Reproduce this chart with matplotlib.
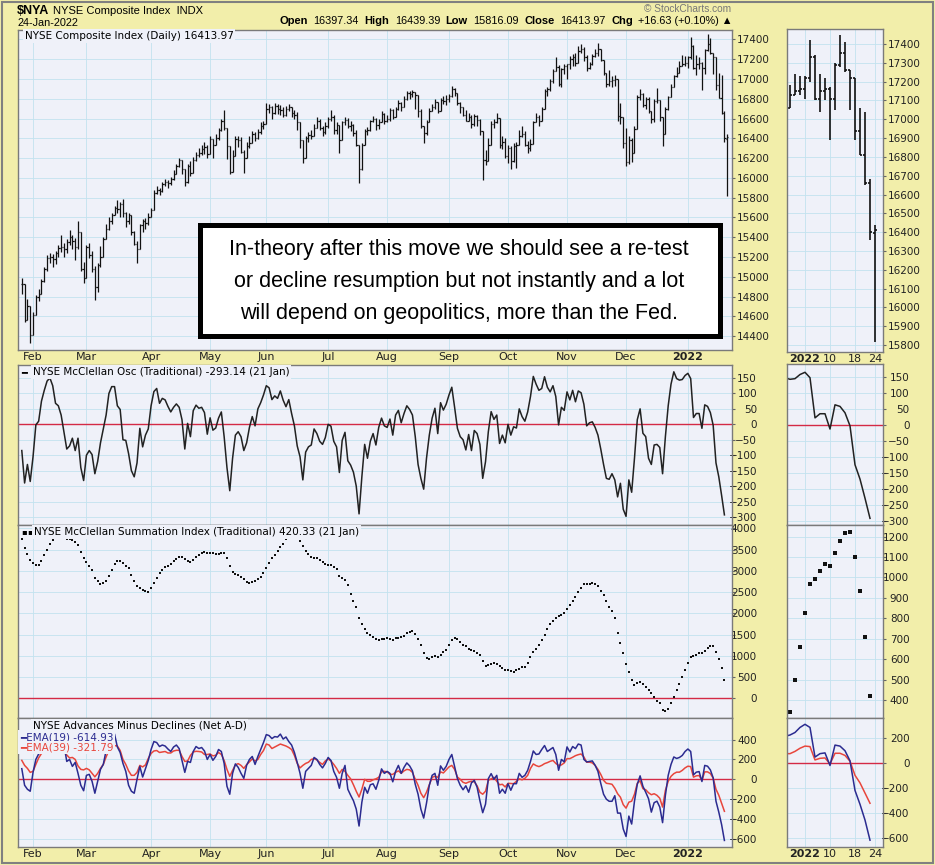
import numpy as np
import pandas as pd
import matplotlib
matplotlib.use('Agg')
import matplotlib.pyplot as plt
from matplotlib.patches import Rectangle
from matplotlib.offsetbox import TextArea, HPacker, AnnotationBbox

W, H = 935, 865
YELLOW = '#f2eeaa'
PANEL = '#eff1f9'
GRID = '#c2e2ef'
ZERO = '#d42a46'
BLUE = '#2b2b90'
RED = '#e8463c'
SANS = ['DejaVu Sans']
ARIAL = ['Liberation Sans', 'DejaVu Sans']

# NYSE trading days, 26 Jan 2021 .. 24 Jan 2022
holidays = ['2021-02-15', '2021-04-02', '2021-05-31', '2021-07-05', '2021-09-06',
            '2021-11-25', '2021-12-24', '2022-01-17']
dates = pd.bdate_range('2021-01-26', '2022-01-24')
dates = dates[~dates.isin(pd.to_datetime(holidays))]

closes = [
    14930, 14560, 14700, 14410,
    14610, 14800, 14830, 14960, 15080, 15190, 15200, 15180, 15240, 15290, 15300, 15280, 15350, 15400, 15360, 15300, 15450, 15080, 14990,
    15300, 15220, 15080, 14900, 15120, 15200, 15380, 15480, 15560, 15620, 15700, 15690, 15740, 15640, 15560, 15620, 15450, 15330, 15280, 15520, 15560, 15540, 15600,
    15680, 15850, 15880, 15870, 15940, 15960, 15950, 15990, 16040, 16120, 16180, 16090, 15960, 16120, 16050, 16180, 16230, 16250, 16290, 16310, 16240,
    16390, 16330, 16400, 16480, 16580, 16500, 16320, 16060, 16220, 16390, 16380, 16260, 16200, 16320, 16350, 16440, 16400, 16460, 16520, 16540,
    16700, 16720, 16660, 16730, 16700, 16690, 16640, 16700, 16720, 16660, 16640, 16560, 16380, 16200, 16400, 16430, 16420, 16500, 16580, 16500, 16460, 16520,
    16600, 16620, 16480, 16530, 16380, 16560, 16590, 16520, 16530, 16450, 16330, 16090, 16330, 16470, 16480, 16570, 16600, 16530, 16560, 16650, 16580,
    16600, 16690, 16620, 16700, 16760, 16720, 16800, 16860, 16850, 16870, 16840, 16680, 16520, 16450, 16560, 16680, 16720, 16770, 16680, 16790, 16780, 16800,
    16830, 16900, 16860, 16760, 16720, 16640, 16580, 16620, 16540, 16630, 16590, 16470, 16180, 16170, 16330, 16540, 16560, 16610, 16330, 16360, 16220,
    16300, 16170, 16320, 16330, 16420, 16440, 16330, 16300, 16340, 16560, 16620, 16580, 16700, 16880, 16900, 16980, 17080, 17120, 16950, 17100, 17130,
    17150, 17200, 17220, 17160, 17280, 17300, 17220, 17110, 17150, 17230, 17260, 17300, 17190, 17060, 16950, 16980, 16990, 17000, 16630, 16620, 16350,
    16160, 16380, 16250, 16490, 16820, 16850, 16740, 16800, 16680, 16600, 16780, 16790, 16620, 16440, 16700, 16820, 16920, 17030, 17060, 17130, 17150, 17160,
    17220, 17330, 17110, 17150, 17160, 17110, 17290, 17350, 17260, 17220, 16940, 16810, 16660, 16400, 16413.97,
]
highs = [
    14990, 14900, 14780, 14680,
    14640, 14820, 14880, 14980, 15100, 15220, 15240, 15230, 15260, 15320, 15420, 15340, 15380, 15470, 15420, 15390, 15560, 15450, 15150,
    15320, 15340, 15260, 15110, 15140, 15310, 15400, 15530, 15600, 15640, 15720, 15780, 15760, 15790, 15660, 15650, 15620, 15460, 15360, 15530, 15580, 15590, 15640,
    15700, 15880, 15920, 15900, 15960, 15990, 15980, 16010, 16080, 16140, 16200, 16170, 16090, 16140, 16170, 16210, 16260, 16300, 16330, 16360, 16330,
    16420, 16390, 16440, 16500, 16600, 16690, 16400, 16280, 16280, 16420, 16420, 16410, 16280, 16360, 16420, 16470, 16460, 16490, 16560, 16580,
    16760, 16750, 16730, 16760, 16750, 16740, 16720, 16730, 16750, 16720, 16690, 16670, 16560, 16380, 16420, 16460, 16480, 16540, 16620, 16600, 16520, 16560,
    16620, 16690, 16640, 16560, 16520, 16580, 16620, 16610, 16580, 16540, 16480, 16300, 16350, 16490, 16510, 16590, 16630, 16610, 16600, 16680, 16660,
    16640, 16710, 16700, 16720, 16790, 16770, 16830, 16880, 16880, 16890, 16870, 16820, 16700, 16520, 16590, 16710, 16750, 16800, 16770, 16810, 16830, 16840,
    16850, 16930, 16910, 16860, 16770, 16720, 16690, 16660, 16640, 16650, 16640, 16600, 16440, 16280, 16400, 16570, 16600, 16660, 16560, 16420, 16400,
    16330, 16320, 16350, 16360, 16480, 16520, 16470, 16370, 16390, 16580, 16660, 16640, 16720, 16900, 16920, 17000, 17100, 17220, 17140, 17110, 17150,
    17150, 17230, 17250, 17260, 17330, 17350, 17320, 17240, 17170, 17250, 17300, 17360, 17290, 17180, 17060, 17090, 17030, 17040, 16820, 16760, 16620,
    16500, 16420, 16400, 16520, 16840, 16900, 16860, 16820, 16820, 16660, 16800, 16910, 16760, 16580, 16720, 16830, 16950, 17040, 17120, 17180, 17240, 17230,
    17230, 17420, 17340, 17240, 17220, 17170, 17300, 17450, 17410, 17260, 17220, 17060, 17040, 16680, 16439.39,
]
lows = [
    14830, 14540, 14560, 14330,
    14450, 14620, 14760, 14840, 14950, 15060, 15140, 15100, 15130, 15200, 15250, 15200, 15240, 15320, 15280, 15170, 15280, 15060, 14940,
    15050, 15190, 15050, 14770, 14850, 15100, 15200, 15380, 15470, 15530, 15620, 15640, 15600, 15600, 15500, 15530, 15420, 15320, 15140, 15290, 15450, 15480, 15520,
    15600, 15700, 15840, 15830, 15860, 15920, 15900, 15930, 15980, 16050, 16110, 16040, 15920, 15950, 16020, 16060, 16170, 16210, 16230, 16240, 16200,
    16290, 16200, 16330, 16380, 16470, 16480, 16190, 16040, 16060, 16250, 16310, 16250, 16050, 16200, 16300, 16360, 16370, 16390, 16440, 16490,
    16560, 16660, 16600, 16650, 16650, 16640, 16620, 16630, 16680, 16620, 16600, 16480, 16300, 16150, 16220, 16360, 16390, 16430, 16500, 16480, 16420, 16440,
    16500, 16580, 16440, 16440, 16250, 16400, 16530, 16500, 16470, 16420, 16320, 15950, 16080, 16340, 16430, 16470, 16560, 16480, 16490, 16570, 16540,
    16560, 16580, 16600, 16620, 16690, 16680, 16720, 16790, 16800, 16820, 16700, 16620, 16500, 16350, 16430, 16580, 16680, 16700, 16660, 16680, 16750, 16740,
    16770, 16820, 16830, 16740, 16660, 16630, 16570, 16570, 16500, 16520, 16520, 16430, 15980, 16130, 16180, 16350, 16500, 16550, 16300, 16290, 16200,
    16150, 16090, 16160, 16100, 16380, 16410, 16320, 16250, 16270, 16400, 16560, 16520, 16570, 16720, 16830, 16880, 16960, 17080, 16930, 16920, 17050,
    17000, 17100, 17130, 17130, 17160, 17260, 17180, 17080, 17100, 17140, 17220, 17230, 17180, 17040, 16920, 16930, 16920, 16930, 16580, 16540, 16300,
    16120, 16140, 16160, 16270, 16560, 16790, 16720, 16700, 16660, 16550, 16560, 16760, 16570, 16320, 16480, 16690, 16830, 16940, 17020, 17100, 17140, 17130,
    17110, 17200, 17100, 17040, 17100, 16890, 17050, 17280, 17250, 17050, 16890, 16810, 16650, 16360, 15816.09,
]
last_open = 16397.34

# indicators end on 21 Jan
osc = [
    -85, -190, -130, -185, -105, -2, 10, 75, 110, 140,
    150, 125, 68, 60, 30, -25, -80, -70, -45, -85,
    -45, -140, -182, -100, -85, -98, -160, -120, -60, -15,
    30, 100, 122, 122, 60, 48, -50, -52, -95, -150,
    -170, -125, -13, -73, -35, -15, 60, 106, 116, 68,
    84, 79, 58, 40, 55, 66, 55, 15, -80, 3,
    -40, 44, 62, 52, 55, 38, -32, 21, -19, -12,
    20, 40, -40, -140, -215, -110, -35, -24, -40, -85,
    -60, -10, 25, -5, 50, 70, 95, 125, 118, 80,
    92, 84, 108, 78, 57, 80, 35, -5, -70, -105,
    -180, -90, -73, -67, -15, -30, -55, -65, -43, 0,
    -6, -55, -73, -156, -52, -26, -118, -132, -155, -200,
    -290, -170, -65, -110, -55, -30, -67, -10, 20, -5,
    -10, 17, -35, 30, 45, 5, 35, 60, 48, 30,
    -40, -130, -175, -210, -110, -35, 20, 52, -30, 70,
    46, 65, 95, 120, 55, -13, -40, -50, -83, -33,
    -85, -20, -30, -65, -175, -121, -24, 41, 16, 30,
    -62, -35, -60, 0, -35, -8, -12, 50, 25, 10,
    40, 90, 155, 130, 110, 116, 154, 120, 105, 125,
    90, -2, 55, 45, 105, 79, 110, 73, 108, 102,
    65, -5, 5, 8, -10, -35, -80, -130, -175, -178,
    -160, -180, -235, -191, -275, -298, -180, -220, -110, 15,
    50, -29, -40, -110, -130, -67, -65, -75, -160, -40,
    60, 130, 170, 148, 143, 145, 158, 165, 148, 22,
    35, 35, -13, 63, 58, 38, -3, -125, -170, -230, -293.14,
]
summation = [
    3740, 3540, 3400, 3250, 3180, 3140, 3140, 3220, 3380, 3500,
    3620, 3720, 3800, 3850, 3840, 3790, 3750, 3750, 3720, 3680,
    3600, 3440, 3290, 3200, 3110, 3010, 2830, 2760, 2700, 2710,
    2760, 2880, 3020, 3150, 3220, 3220, 3180, 3120, 3060, 2910,
    2750, 2650, 2590, 2540, 2515, 2495, 2590, 2720, 2840, 2945,
    3030, 3080, 3120, 3160, 3230, 3275, 3320, 3315, 3270, 3220,
    3200, 3250, 3330, 3370, 3420, 3435, 3425, 3410, 3410, 3390,
    3400, 3430, 3420, 3290, 3110, 2965, 2925, 2895, 2860, 2810,
    2745, 2722, 2740, 2755, 2800, 2860, 2960, 3070, 3180, 3290,
    3380, 3470, 3560, 3640, 3750, 3840, 3920, 3980, 3850, 3690,
    3590, 3460, 3400, 3330, 3300, 3294, 3260, 3200, 3155, 3140,
    3137, 3100, 3040, 2870, 2835, 2785, 2660, 2450, 2290, 2160,
    1900, 1750, 1630, 1540, 1480, 1445, 1390, 1375, 1390, 1405,
    1412, 1390, 1380, 1420, 1427, 1440, 1460, 1530, 1570, 1585,
    1520, 1400, 1260, 1070, 945, 920, 960, 985, 960, 1030,
    1098, 1130, 1260, 1380, 1425, 1400, 1333, 1260, 1235, 1170,
    1140, 1120, 1060, 1025, 870, 760, 780, 805, 830, 800,
    760, 720, 670, 665, 650, 630, 660, 700, 725, 745,
    830, 980, 1090, 1170, 1260, 1370, 1500, 1620, 1740, 1830,
    1900, 1945, 1965, 2010, 2110, 2200, 2280, 2390, 2500, 2600,
    2680, 2690, 2700, 2710, 2690, 2650, 2530, 2440, 2290, 2140,
    2050, 1900, 1530, 1300, 1070, 800, 620, 420, 314, 350,
    376, 330, 260, 200, 130, 40, -63, -118, -270, -290,
    -250, -100, 40, 190, 340, 500, 660, 825, 970, 995,
    1030, 1065, 1055, 1120, 1180, 1220, 1225, 1100, 935, 710, 420.33,
]
ema19 = [
    107, -60, -100, -120, 70, 200, 255, 270, 290, 320,
    340, 350, 355, 360, 365, 350, 180, 200, 130, 170,
    60, -60, -115, 40, 50, -20, -140, -20, 100, 150,
    290, 400, 425, 455, 326, 270, 160, 80, -60, -120,
    -140, 0, 130, 23, 107, 190, 300, 380, 370, 330,
    345, 335, 305, 280, 325, 345, 309, 191, 70, 180,
    170, 280, 330, 310, 320, 285, 200, 250, 191, 230,
    300, 280, 160, -70, -150, 60, 155, 120, 60, 10,
    141, 200, 230, 150, 230, 300, 370, 450, 440, 410,
    430, 425, 455, 405, 426, 380, 345, 270, 170, 60,
    -90, 80, 110, 140, 220, 200, 150, 115, 160, 220,
    190, 80, 20, -90, 60, 140, -100, -160, -215, -300,
    -470, -230, -80, -140, -55, -45, -100, -10, 105, 60,
    80, 60, -25, 80, 140, 60, 120, 165, 135, 85,
    -50, -150, -300, -390, -240, -60, 40, 60, -60, 135,
    91, 130, 200, 250, 130, 7, -60, -105, -65, -130,
    -35, -10, -80, -215, -336, -250, 7, 57, 0, 40,
    -140, -100, -140, -44, -110, -44, -44, 60, 20, 40,
    90, 180, 285, 250, 255, 300, 340, 280, 300, 320,
    250, 91, 200, 175, 326, 275, 330, 309, 355, 345,
    200, 175, 180, 185, 141, 80, -40, -150, -200, -221,
    -221, -165, -340, -340, -500, -575, -370, -450, -220, -50,
    35, -70, -130, -195, -330, -235, -220, -279, -436, -161,
    40, 150, 225, 210, 220, 240, 280, 305, 280, 45,
    72, 78, -22, 140, 132, 95, 15, -220, -330, -455, -614.93,
]
ema39 = [
    191, 140, 110, 70, 80, 150, 215, 260, 270, 275,
    280, 285, 285, 283, 280, 275, 245, 215, 220, 200,
    135, 100, 95, 110, 95, 60, 25, 60, 110, 150,
    225, 292, 322, 340, 335, 290, 200, 150, 85, 40,
    40, 70, 140, 125, 145, 210, 260, 285, 290, 270,
    275, 280, 265, 265, 285, 292, 292, 230, 180, 185,
    240, 275, 282, 280, 275, 250, 250, 255, 236, 242,
    270, 250, 190, 100, 30, 90, 145, 158, 140, 110,
    148, 175, 205, 185, 200, 250, 290, 355, 345, 310,
    325, 340, 355, 345, 335, 320, 300, 240, 160, 115,
    140, 160, 172, 200, 208, 195, 170, 150, 185, 205,
    185, 150, 110, 60, 100, 80, 40, 5, -55, -120,
    -178, -100, 0, -20, -20, -5, 5, 20, 75, 80,
    75, 50, 50, 70, 85, 60, 85, 100, 95, 70,
    0, -60, -140, -185, -130, -55, 20, 30, 20, 75,
    64, 95, 125, 140, 100, 23, 0, -30, -40, -27,
    -20, -25, -65, -130, -150, -120, -10, 5, 20, -20,
    -55, -50, -77, -40, -42, -44, -20, 5, -5, 10,
    40, 110, 155, 138, 128, 140, 158, 168, 181, 190,
    160, 140, 145, 165, 208, 208, 222, 238, 248, 255,
    225, 172, 173, 165, 140, 100, 50, -10, -40, -44,
    -50, -90, -145, -180, -255, -290, -230, -220, -150, -40,
    -15, -94, -105, -135, -155, -145, -161, -190, -279, -111,
    -20, 30, 57, 72, 72, 90, 115, 132, 128, 22,
    35, 38, -10, 75, 75, 58, 12, -100, -160, -240, -321.79,
]

note = ["In-theory after this move we should see a re-test",
        "or decline resumption but not instantly and a lot",
        "will depend on geopolitics, more than the Fed."]


def fx(px):
    return px / W


def fy(py):
    return 1 - py / H


def panel(fig, l, t, r, b):
    ax = fig.add_axes([l / W, 1 - b / H, (r - l) / W, (b - t) / H])
    ax.set_facecolor(PANEL)
    for s in ax.spines.values():
        s.set_color('#7a7a7a')
        s.set_linewidth(1)
    ax.yaxis.tick_right()
    ax.tick_params(axis='y', length=2.5, width=0.8, color='#666666', labelsize=7.5, pad=1, labelcolor='#222222')
    ax.tick_params(axis='x', length=0, labelsize=8, pad=1.5, labelcolor='#222222')
    ax.grid(True, color=GRID, lw=0.6)
    ax.set_axisbelow(True)
    return ax


def right_align(ax, pad):
    ax.tick_params(axis='y', pad=pad)
    for t in ax.yaxis.get_major_ticks():
        t.label2.set_horizontalalignment('right')


def ohlc(ax, x, o, h, l, c, w, lw):
    lo = np.minimum(l, np.minimum(o, c))
    hi = np.maximum(h, np.maximum(o, c))
    ax.vlines(x, lo, hi, color='#111111', lw=lw)
    ax.hlines(o, x - w, x, color='#111111', lw=lw)
    ax.hlines(c, x, x + w, color='#111111', lw=lw)


def main():
    fig = plt.figure(figsize=(W / 100, H / 100), dpi=100, facecolor=YELLOW)

    n = len(dates)
    x = np.arange(n)
    c = np.array(closes, float)
    h = np.array(highs, float)
    l = np.array(lows, float)
    o = np.r_[c[0], c[:-1]]
    o[-1] = last_open
    xi = np.arange(len(osc))

    m_idx = [i for i in range(1, n) if dates[i].month != dates[i - 1].month]
    m_lbl = [str(dates[i].year) if dates[i].month == 1 else dates[i].strftime('%b') for i in m_idx]
    r_idx = [dates.get_loc(pd.Timestamp(d)) for d in ['2022-01-03', '2022-01-10', '2022-01-18', '2022-01-24']]
    r_lbl = ['2022', '10', '18', '24']
    xl = (-1.35, 252.7)
    xr = (233.4, 252.6)

    # left column
    ax1 = panel(fig, 18, 30, 732, 350)
    ax2 = panel(fig, 18, 365, 732, 525)
    ax3 = panel(fig, 18, 525, 732, 718)
    ax4 = panel(fig, 18, 718, 732, 847)
    # right zoom column
    bx1 = panel(fig, 787, 29, 883, 352)
    bx2 = panel(fig, 787, 364, 883, 525)
    bx3 = panel(fig, 787, 525, 883, 718)
    bx4 = panel(fig, 787, 718, 883, 847)

    ohlc(ax1, x, o, h, l, c, 0.45, 0.9)
    ohlc(bx1, x, o, h, l, c, 0.45, 1.2)

    for a in (ax2, bx2):
        a.axhline(0, color=ZERO, lw=1, zorder=1.5)
        a.plot(xi, osc, color='#222222', lw=1.1)
    ax3.axhline(0, color=ZERO, lw=1, zorder=1.5)
    ax3.plot(xi, summation, 's', ms=2.1, mew=0, color='#111111')
    bx3.plot(xi, summation, 's', ms=2.8, mew=0, color='#111111')
    for a in (ax4, bx4):
        a.axhline(0, color=ZERO, lw=1, zorder=1.5)
        a.plot(xi, ema39, color=RED, lw=1.1)
        a.plot(xi, ema19, color=BLUE, lw=1.1)

    for a in (ax1, ax2, ax3, ax4):
        a.set_xlim(*xl)
        a.set_xticks(m_idx)
        a.set_xticklabels(m_lbl)
    for a in (bx1, bx2, bx3, bx4):
        a.set_xlim(*xr)
        a.set_xticks(r_idx)
        a.set_xticklabels(r_lbl)
    for a in (ax2, ax3, bx2, bx3):
        a.tick_params(axis='x', labelbottom=False)
    for a in (ax1, ax4, bx1, bx4):
        for t in a.get_xticklabels():
            if t.get_text() == '2022':
                t.set_fontweight('bold')

    ax1.set_ylim(14260, 17495)
    ax1.set_yticks(np.arange(14400, 17401, 200))
    ax2.set_ylim(-326, 192)
    ax2.set_yticks(np.arange(-300, 151, 50))
    ax3.set_ylim(-464, 4078)
    ax3.set_yticks(np.arange(0, 4001, 500))
    ax4.set_ylim(-681, 617)
    ax4.set_yticks(np.arange(-600, 401, 200))
    bx1.set_ylim(15763, 17480)
    bx1.set_yticks(np.arange(15800, 17401, 100))
    bx2.set_ylim(-314, 191)
    bx2.set_yticks(np.arange(-300, 151, 50))
    bx3.set_ylim(312, 1257)
    bx3.set_yticks(np.arange(400, 1201, 100))
    bx4.set_ylim(-669, 355)
    bx4.set_yticks(np.arange(-600, 201, 200))
    for a in (ax2, ax3, ax4):
        right_align(a, 15.5)
    for a in (bx2, bx3, bx4):
        right_align(a, 16.5)

    # panel legends
    lb = dict(boxstyle='square,pad=0.15', fc=PANEL, ec='none')
    fig.text(fx(25), fy(36), 'NYSE Composite Index (Daily) 16413.97', family=SANS, fontsize=7.5,
             va='center', bbox=lb)
    fig.text(fx(21), fy(372), '\u2501', family=SANS, fontsize=7, va='center')
    fig.text(fx(33), fy(372), 'NYSE McClellan Osc (Traditional) -293.14 (21 Jan)', family=SANS, fontsize=7.5,
             va='center', bbox=lb)
    for px in (21, 27):
        fig.text(fx(px), fy(532), '\u25aa', family=SANS, fontsize=6, va='center')
    fig.text(fx(34), fy(532), 'NYSE McClellan Summation Index (Traditional) 420.33 (21 Jan)', family=SANS,
             fontsize=7.5, va='center', bbox=lb)
    fig.text(fx(33), fy(726), 'NYSE Advances Minus Declines (Net A-D)', family=SANS, fontsize=7.5,
             va='center', bbox=lb)
    fig.text(fx(20), fy(737), '\u2501EMA(19) -614.93', family=SANS, fontsize=7.5, color=BLUE,
             va='center', bbox=lb)
    fig.text(fx(20), fy(747.5), '\u2501EMA(39) -321.79', family=SANS, fontsize=7.5, color=RED,
             va='center', bbox=lb)

    # header
    fig.text(fx(17), fy(11), '$NYA', family=ARIAL, fontsize=9, fontweight='bold', va='center')
    fig.text(fx(53), fy(11), 'NYSE Composite Index  INDX', family=ARIAL, fontsize=8, va='center')
    fig.text(fx(17), fy(23), '24-Jan-2022', family=ARIAL, fontsize=7.8, va='center')
    fig.text(fx(688), fy(9), '\u00a9 StockCharts.com', family=ARIAL, fontsize=7.3, color='#777777',
             ha='center', va='center')
    bold = dict(family=ARIAL, fontsize=8, fontweight='bold')
    norm = dict(family=ARIAL, fontsize=7.8)
    parts = [('Open', bold), ('16397.34', norm), ('High', bold), ('16439.39', norm), ('Low', bold),
             ('15816.09', norm), ('Close', bold), ('16413.97', norm), ('Chg', bold),
             ('+16.63 (+0.10%) \u25b2', norm)]
    pack = HPacker(children=[TextArea(s, textprops=p) for s, p in parts], align='baseline', pad=0, sep=4)
    fig.add_artist(AnnotationBbox(pack, (733, 865 - 21), xycoords='figure pixels', box_alignment=(1, 0.5),
                                  frameon=False, pad=0))

    # comment box
    fig.add_artist(Rectangle((fx(199.5), fy(335.5)), (719.5 - 199.5) / W, (335.5 - 224.5) / H,
                             transform=fig.transFigure, fc='white', ec='black', lw=3.6, zorder=5))
    for line, yy in zip(note, [250, 281.5, 313]):
        fig.text(fx(459), fy(yy), line, family=ARIAL, fontsize=15.5, ha='center', va='center', zorder=6)

    fig.add_artist(Rectangle((0.002, 0.002), 0.996, 0.996, transform=fig.transFigure, fill=False,
                             ec='#808080', lw=1.5))

    fig.savefig('out.png', dpi=100, facecolor=YELLOW)


if __name__ == '__main__':
    main()
